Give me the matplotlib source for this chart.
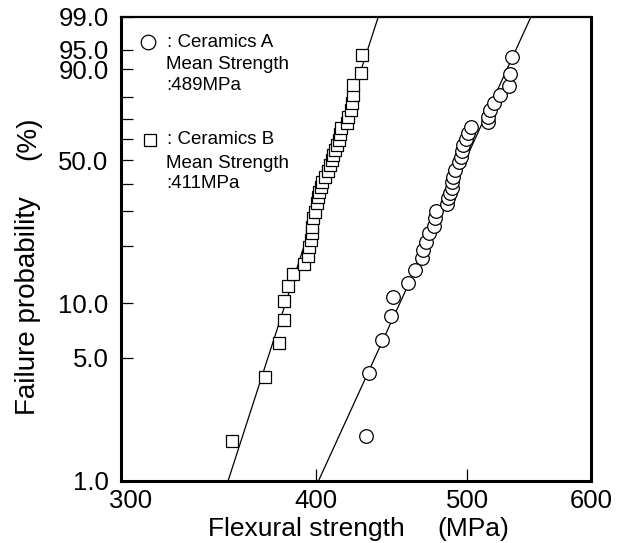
import numpy as np
import matplotlib
matplotlib.use("Agg")
import matplotlib.pyplot as plt
import matplotlib.transforms as mtransforms
from matplotlib.ticker import NullLocator, FixedLocator

plt.rcParams['font.family'] = ['Liberation Sans', 'DejaVu Sans']

# Ceramics A (circles): strength MPa, failure probability %
a_strength = [430.4, 432.5, 440.7, 446.6, 448.3, 457.9, 462.8, 467.4, 468.6, 470.2,
              472.7, 476.2, 476.7, 477.2, 485.4, 486.1, 487.4, 488.6, 489.0, 489.8,
              491.0, 493.9, 495.4, 496.3, 497.1, 499.0, 500.3, 502.7, 515.3, 515.7,
              517.0, 520.3, 524.7, 531.7, 532.5, 533.8]
a_prob = [1.8, 4.1, 6.3, 8.5, 10.8, 12.9, 15.0, 17.3, 19.1, 21.1,
          23.3, 25.3, 27.6, 29.9, 32.2, 34.3, 36.2, 38.3, 40.5, 42.8,
          45.7, 49.1, 51.7, 54.4, 57.2, 60.0, 62.9, 66.1, 68.2, 70.9,
          74.0, 77.1, 80.7, 84.4, 88.5, 93.5]

# Ceramics B (squares)
b_strength = [353.5, 371.0, 378.6, 381.7, 381.7, 384.0, 386.5, 393.1, 395.1, 396.0,
              396.9, 397.5, 397.8, 398.4, 399.4, 400.4, 401.3, 401.9, 402.9, 403.7,
              405.3, 407.3, 408.3, 409.3, 410.3, 411.3, 412.4, 413.8, 414.4, 415.0,
              418.5, 419.5, 421.2, 422.0, 422.2, 422.6, 427.2, 428.3]
b_prob = [1.7, 3.9, 6.0, 8.1, 10.2, 12.3, 14.3, 16.1, 17.9, 19.9,
          21.5, 23.3, 25.1, 27.6, 29.7, 32.5, 34.9, 36.8, 38.7, 40.7,
          42.8, 45.3, 47.9, 50.2, 52.5, 54.9, 57.2, 59.7, 62.5, 65.5,
          67.9, 70.9, 74.0, 77.2, 80.7, 84.7, 88.8, 93.8]

# fitted Weibull lines (end points at 1% and 99%)
line_prob = [1, 99]
a_line_strength = [401.4, 549.1]
b_line_strength = [351.3, 438.4]

ytick_vals = [1, 5, 10, 50, 90, 95, 99]
ytick_labels = ["1.0", "5.0", "10.0", "50.0", "90.0", "95.0", "99.0"]
yminor_vals = [20, 30, 40, 60, 70, 80]
xtick_vals = [300, 400, 500, 600]
xtick_labels = ["300", "400", "500", "600"]


def fwd(p):
    with np.errstate(all="ignore"):
        return np.log(-np.log(1 - np.asarray(p) / 100.0))


def inv(w):
    with np.errstate(all="ignore"):
        return 100.0 * (1 - np.exp(-np.exp(np.asarray(w))))


fig = plt.figure(figsize=(6.23, 5.43), dpi=100)
ax = fig.add_axes([121/623, 1-481/543, 470/623, 464/543])

ax.set_xscale("log")
ax.set_yscale("function", functions=(fwd, inv))
ax.set_xlim(300, 600)
ax.set_ylim(1, 99)

ax.plot(a_line_strength, line_prob, color="black", lw=0.9, zorder=2)
ax.plot(b_line_strength, line_prob, color="black", lw=0.9, zorder=2)
ax.plot(a_strength, a_prob, "o", ms=9.8, mfc="white", mec="black", mew=0.9,
        zorder=3, clip_on=False)
ax.plot(b_strength, b_prob, "s", ms=9.3, mfc="white", mec="black", mew=0.9,
        zorder=3, clip_on=False)

ax.xaxis.set_major_locator(FixedLocator(xtick_vals))
ax.set_xticklabels(xtick_labels)
ax.xaxis.set_minor_locator(NullLocator())
ax.yaxis.set_major_locator(FixedLocator(ytick_vals))
ax.set_yticklabels(ytick_labels)
ax.yaxis.set_minor_locator(FixedLocator(yminor_vals))

ax.tick_params(which="both", direction="in", length=8.5, width=0.9,
               labelsize=18.5, color="black")
ax.tick_params(axis="y", pad=9)
ax.tick_params(axis="x", pad=6)
# first x label sits a little right of the spine in the original
shift = mtransforms.ScaledTranslation(10/100, 0, fig.dpi_scale_trans)
lab0 = ax.get_xticklabels()[0]
lab0.set_transform(lab0.get_transform() + shift)

for side in ["left", "bottom", "right"]:
    ax.spines[side].set_linewidth(2.2)
ax.spines["top"].set_linewidth(1.6)

# legend-like annotation
fs = 13.5
ax.plot([0.0574], [0.946], "o", ms=10.5, mfc="white", mec="black", mew=0.9,
        transform=ax.transAxes, clip_on=False)
ax.text(0.098, 0.946, ": Ceramics A", transform=ax.transAxes, fontsize=fs,
        ha="left", va="center")
ax.text(0.0957, 0.8966, "Mean Strength", transform=ax.transAxes, fontsize=fs,
        ha="left", va="center")
ax.text(0.0957, 0.853, ":489MPa", transform=ax.transAxes, fontsize=fs,
        ha="left", va="center")
ax.plot([0.0617], [0.735], "s", ms=8.5, mfc="white", mec="black", mew=0.9,
        transform=ax.transAxes, clip_on=False)
ax.text(0.098, 0.735, ": Ceramics B", transform=ax.transAxes, fontsize=fs,
        ha="left", va="center")
ax.text(0.0957, 0.6853, "Mean Strength", transform=ax.transAxes, fontsize=fs,
        ha="left", va="center")
ax.text(0.0957, 0.642, ":411MPa", transform=ax.transAxes, fontsize=fs,
        ha="left", va="center")

# axis titles
fig.text(208/623, 1-536/543, "Flexural strength", fontsize=19,
         ha="left", va="baseline")
fig.text(437/623, 1-536/543, "(MPa)", fontsize=19, ha="left", va="baseline")
fig.text(28/623, 1-306/543, "Failure probability", fontsize=20,
         ha="center", va="center", rotation=90)
fig.text(28/623, 1-138/543, "(%)", fontsize=20,
         ha="center", va="center", rotation=90)

fig.savefig("out.png", dpi=100)
